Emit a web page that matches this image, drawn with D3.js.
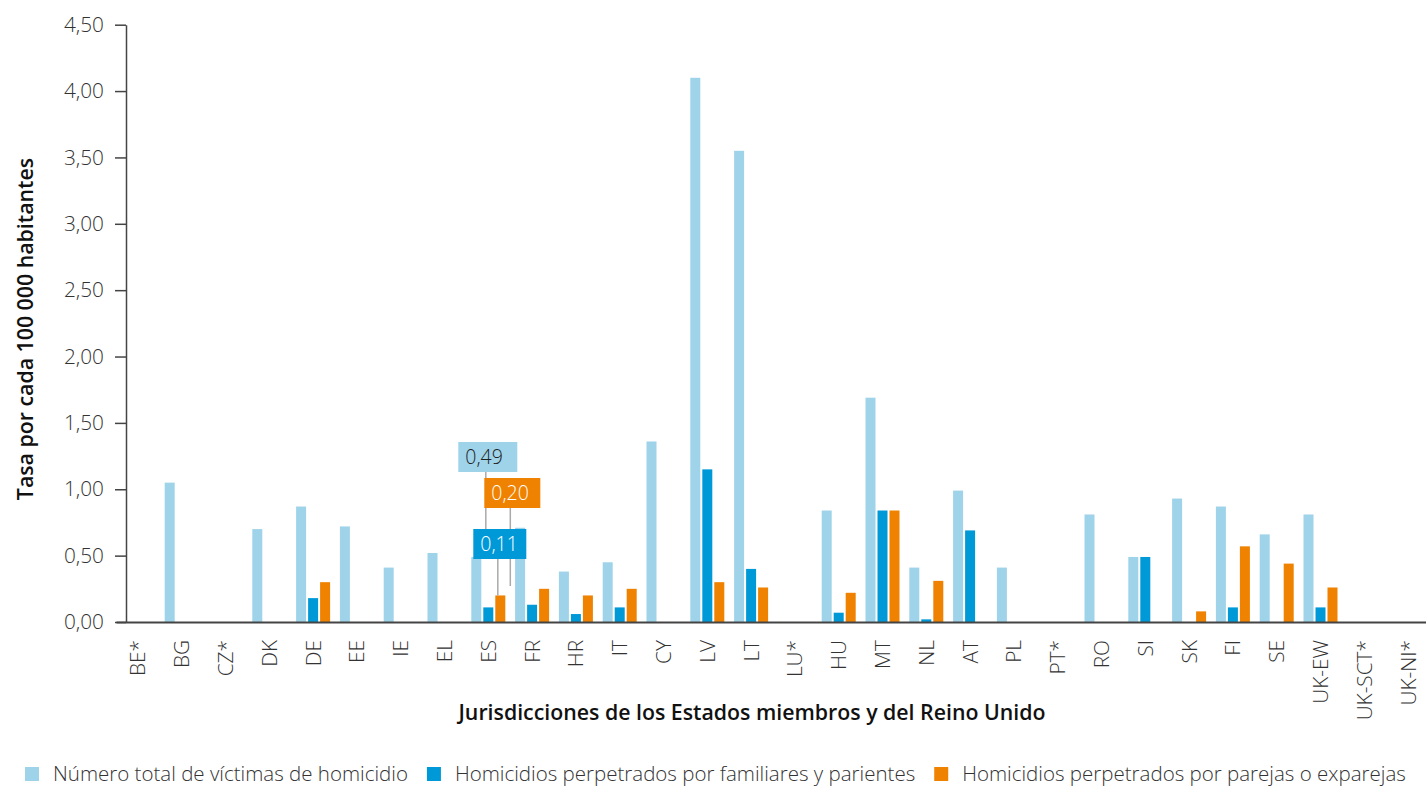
<!DOCTYPE html>
<html>
<head>
<meta charset="utf-8">
<script src="https://cdn.jsdelivr.net/npm/d3@7"></script>
<style>
  body { margin: 0; background: #fff; }
  text { font-family: "Open Sans", sans-serif; fill: #333; }
</style>
</head>
<body>
<div id="canvas"></div>
<script>
"use strict"

/* Data */
let categories = ["BE*", "BG", "CZ*", "DK", "DE", "EE", "IE", "EL", "ES", "FR",
    "HR", "IT", "CY", "LV", "LT", "LU*", "HU", "MT", "NL", "AT",
    "PL", "PT*", "RO", "SI", "SK", "FI", "SE", "UK-EW", "UK-SCT*", "UK-NI*"];

let totalVictims = [0, 1.05, 0, 0.70, 0.87, 0.72, 0.41, 0.52, 0.49, 0.71,
    0.38, 0.45, 1.36, 4.10, 3.55, 0, 0.84, 1.69, 0.41, 0.99,
    0.41, 0, 0.81, 0.49, 0.93, 0.87, 0.66, 0.81, 0, 0];

let familyVictims = [0, 0, 0, 0, 0.18, 0, 0, 0, 0.11, 0.13,
    0.06, 0.11, 0, 1.15, 0.40, 0, 0.07, 0.84, 0.02, 0.69,
    0, 0, 0, 0.49, 0, 0.11, 0, 0.11, 0, 0];

let partnerVictims = [0, 0, 0, 0, 0.30, 0, 0, 0, 0.20, 0.25,
    0.20, 0.25, 0, 0.30, 0.26, 0, 0.22, 0.84, 0.31, 0,
    0, 0, 0, 0, 0.08, 0.57, 0.44, 0.26, 0, 0];

let seriesNames = ["Número total de víctimas de homicidio",
    "Homicidios perpetrados por familiares y parientes",
    "Homicidios perpetrados por parejas o exparejas"];
let seriesColors = ["#9fd3ea", "#0099d8", "#ef8200"];

let yTicks = [0, 0.5, 1, 1.5, 2, 2.5, 3, 3.5, 4, 4.5];

/* Data labels shown for ES */
let esLabels = [
    {series: 0, text: "0,49"},
    {series: 2, text: "0,20"},
    {series: 1, text: "0,11"}
];

/* Drawing setup */
let svgWidth = 1426;
let svgHeight = 786;
let fontSize = 20.8;

let svg = d3.select("#canvas")
    .append("svg")
    .attr("width", svgWidth)
    .attr("height", svgHeight);

let xScale = d3.scaleBand()
    .domain(categories)
    .range([116, 1430]);

let yScale = d3.scaleLinear()
    .domain([0, 4.5])
    .range([622, 24.7]);

let series = [totalVictims, familyVictims, partnerVictims];
let barWidth = 10;
let barStep = 12;

/* bars */
series.forEach(function (values, s) {
    svg.append("g")
        .selectAll("rect")
        .data(values)
        .join("rect")
        .attr("x", function (d, i) {
            return xScale(categories[i]) + xScale.bandwidth() / 2 - 17 + s * barStep;
        })
        .attr("y", function (d) { return yScale(d); })
        .attr("width", barWidth)
        .attr("height", function (d) { return yScale(0) - yScale(d); })
        .attr("fill", seriesColors[s]);
});

/* y axis */
let yAxis = svg.append("g")
    .attr("transform", "translate(126,0)")
    .call(d3.axisLeft(yScale)
        .tickValues(yTicks)
        .tickSize(11)
        .tickSizeOuter(0)
        .tickPadding(11)
        .tickFormat(function (d) { return d.toFixed(2).replace(".", ","); }));
yAxis.select(".domain").attr("stroke", "#444").attr("stroke-width", 1.5);
yAxis.selectAll(".tick line").attr("stroke", "#444").attr("stroke-width", 1.5);
yAxis.selectAll(".tick text")
    .attr("font-size", fontSize)
    .attr("font-family", "Open Sans")
    .attr("font-weight", 300)
    .attr("fill", "#333");

/* x axis */
let xAxis = svg.append("g")
    .attr("transform", "translate(0,622)")
    .call(d3.axisBottom(xScale).tickSize(0).tickSizeOuter(0));
xAxis.select(".domain").attr("stroke", "#444").attr("stroke-width", 2);
xAxis.selectAll(".tick text")
    .attr("font-size", fontSize)
    .attr("font-family", "Open Sans")
    .attr("font-weight", 300)
    .attr("fill", "#333")
    .attr("text-anchor", "end")
    .attr("dy", null)
    .attr("y", 0)
    .attr("transform", "translate(7.5,18) rotate(-90)");

/* ES data labels with leader lines */
let esCenter = xScale("ES") + xScale.bandwidth() / 2;
let leaderLines = [
    {x: esCenter - 2.5, y1: 472, y2: 529},
    {x: esCenter + 22, y1: 508, y2: 586},
    {x: esCenter + 9.5, y1: 558, y2: yScale(partnerVictims[8])}
];
leaderLines.forEach(function (l) {
    svg.append("line")
        .attr("x1", l.x).attr("x2", l.x)
        .attr("y1", l.y1).attr("y2", l.y2)
        .attr("stroke", "#aaa")
        .attr("stroke-width", 1.5);
});

let boxes = [
    {x: esCenter - 30, y: 442, w: 59, h: 30},
    {x: esCenter - 4, y: 478, w: 56, h: 30},
    {x: esCenter - 15, y: 529, w: 53, h: 30}
];
esLabels.forEach(function (lab, i) {
    let b = boxes[i];
    svg.append("rect")
        .attr("x", b.x).attr("y", b.y)
        .attr("width", b.w).attr("height", b.h)
        .attr("fill", seriesColors[lab.series]);
    svg.append("text")
        .attr("x", b.x + 7)
        .attr("y", b.y + b.h / 2 + 7)
        .attr("font-size", 19.5)
        .attr("font-weight", 300)
        .style("fill", lab.series === 0 ? "#222" : "#fff")
        .text(lab.text);
});

/* axis titles */
svg.append("text")
    .attr("transform", "translate(33,329) rotate(-90)")
    .attr("text-anchor", "middle")
    .attr("font-size", 21.3)
    .attr("font-weight", 600)
    .style("fill", "#111")
    .text("Tasa por cada 100 000 habitantes");

svg.append("text")
    .attr("x", 752)
    .attr("y", 720)
    .attr("text-anchor", "middle")
    .attr("font-size", 21.3)
    .attr("font-weight", 600)
    .style("fill", "#111")
    .text("Jurisdicciones de los Estados miembros y del Reino Unido");

/* legend */
let legendX = 25;
seriesNames.forEach(function (name, s) {
    svg.append("rect")
        .attr("x", legendX)
        .attr("y", 767)
        .attr("width", 14)
        .attr("height", 14)
        .attr("fill", seriesColors[s]);
    let t = svg.append("text")
        .attr("x", legendX + 28)
        .attr("y", 781)
        .attr("font-size", 20.5)
        .attr("font-weight", 300)
        .text(name);
    legendX += 28 + t.node().getComputedTextLength() + 19;
});
</script>
</body>
</html>
